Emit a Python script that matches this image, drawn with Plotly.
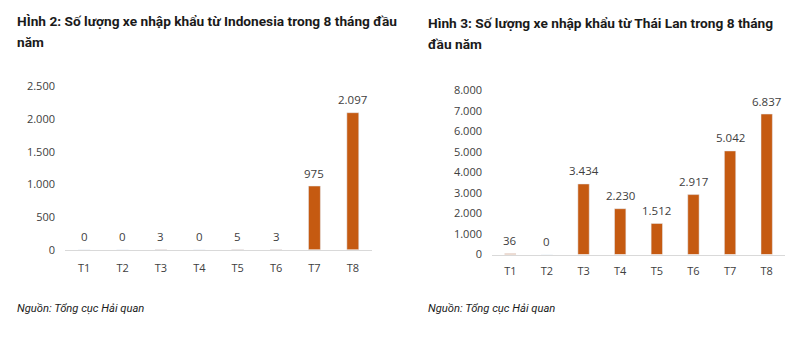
import plotly.graph_objects as go

months = ["T1", "T2", "T3", "T4", "T5", "T6", "T7", "T8"]
indonesia = [0, 0, 3, 0, 5, 3, 975, 2097]
thailand = [36, 0, 3434, 2230, 1512, 2917, 5042, 6837]
left_ticks = [0, 500, 1000, 1500, 2000, 2500]
right_ticks = [0, 1000, 2000, 3000, 4000, 5000, 6000, 7000, 8000]

title_left = ["HÌnh 2: Số lượng xe nhập khẩu từ Indonesia trong 8 tháng đầu", "năm"]
title_right = ["Hình 3: Số lượng xe nhập khẩu từ Thái Lan trong 8 tháng", "đầu năm"]
source = "Nguồn: Tổng cục Hải quan"

BAR = "#C55A11"
TXT = "#404040"
W, H = 800, 337
TFONT = "Roboto, sans-serif"
NFONT = "Open Sans, sans-serif"

fig = go.Figure()
fig.add_trace(go.Bar(x=months, y=indonesia, marker_color=BAR, width=0.31,
                     xaxis="x", yaxis="y", hoverinfo="skip"))
fig.add_trace(go.Bar(x=months, y=thailand, marker_color=BAR, width=0.31,
                     xaxis="x2", yaxis="y2", hoverinfo="skip"))

def fmt(v):
    return f"{v:,}".replace(",", ".")

ann = []
for m, v in zip(months, indonesia):
    ann.append(dict(x=m, y=v, xref="x", yref="y", text=fmt(v), showarrow=False,
                    yanchor="middle", yshift=13, font=dict(family=NFONT, size=11.5, color=TXT)))
for m, v in zip(months, thailand):
    ann.append(dict(x=m, y=v, xref="x2", yref="y2", text=fmt(v), showarrow=False,
                    yanchor="middle", yshift=13, font=dict(family=NFONT, size=11.5, color=TXT)))

def addtext(text, px, py, size, bold=False, italic=False):
    ann.append(dict(x=px / W, y=1 - py / H, xref="paper", yref="paper", text=text,
                    showarrow=False, xanchor="left", yanchor="middle",
                    font=dict(family=TFONT, size=size, color="#1a1a1a",
                              weight="bold" if bold else "normal",
                              style="italic" if italic else "normal")))

addtext(title_left[0], 15, 14, 13.7, bold=True)
addtext(title_left[1], 15, 36, 13.7, bold=True)
addtext(title_right[0], 426, 16, 13.7, bold=True)
addtext(title_right[1], 426, 38, 13.7, bold=True)
addtext(source, 15, 314, 11.2, italic=True)
addtext(source, 426, 314, 11.2, italic=True)

axfont = dict(family=NFONT, size=11, color=TXT)
fig.update_layout(
    width=W, height=H, margin=dict(l=0, r=0, t=0, b=0),
    paper_bgcolor="white", plot_bgcolor="white", showlegend=False,
    separators=",.",
    annotations=ann,
    xaxis=dict(domain=[65 / W, 372 / W], anchor="y", showline=True, linecolor="#d9d9d9",
               linewidth=1, showgrid=False, ticks="", tickfont=axfont, ticklabelstandoff=8),
    yaxis=dict(domain=[1 - 253 / H, 1 - 82 / H], anchor="x", range=[0, 2500],
               tickvals=left_ticks, tickformat=",d", showgrid=False, zeroline=False,
               showline=False, tickfont=axfont, ticklabelstandoff=9),
    xaxis2=dict(domain=[492 / W, 785 / W], anchor="y2", showline=True, linecolor="#d9d9d9",
                linewidth=1, showgrid=False, ticks="", tickfont=axfont, ticklabelstandoff=6),
    yaxis2=dict(domain=[1 - 258 / H, 1 - 86 / H], anchor="x2", range=[0, 8000],
                tickvals=right_ticks, tickformat=",d", showgrid=False, zeroline=False,
                showline=False, tickfont=axfont, ticklabelstandoff=9),
)
fig.write_html("out.html")
